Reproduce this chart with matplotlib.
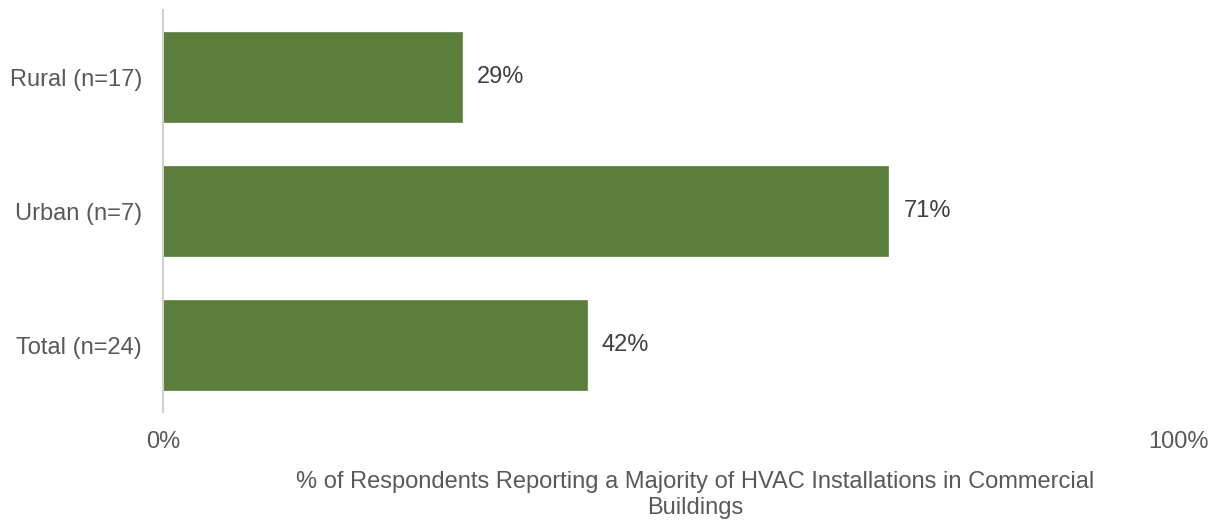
import matplotlib.pyplot as plt

plt.rcParams['font.family'] = ['Liberation Sans', 'DejaVu Sans']

categories = ['Rural (n=17)', 'Urban (n=7)', 'Total (n=24)']
values = [29.4, 71.4, 41.7]
value_labels = ['29%', '71%', '42%']
tick_vals = [0, 100]
tick_labels = ['0%', '100%']

fs = 17

fig = plt.figure(figsize=(12.17, 5.24), dpi=100)
ax = fig.add_axes([163 / 1217, 1 - 412 / 524, (1179 - 163) / 1217, 402 / 524])

ypos = list(range(len(categories)))
ax.barh(ypos, values, height=0.665, color='#5B7F3A', edgecolor='#6A8D48', linewidth=0.6)

for y, v, lab in zip(ypos, values, value_labels):
    ax.text(v + 1.5, y, lab, va='center', ha='left', fontsize=fs, color='#404040')

ax.set_ylim(len(categories) - 0.5, -0.5)
ax.set_xlim(0, 100)
ax.set_yticks(ypos)
ax.set_yticklabels(categories, fontsize=fs, color='#595959')
ax.set_xticks(tick_vals)
ax.set_xticklabels(tick_labels, fontsize=fs, color='#595959')
ax.tick_params(axis='both', length=0)
ax.tick_params(axis='y', pad=15)
ax.tick_params(axis='x', pad=14)

for side in ['top', 'right', 'bottom']:
    ax.spines[side].set_visible(False)
ax.spines['left'].set_color('#D0D0D0')
ax.spines['left'].set_linewidth(1.5)

fig.text(695 / 1217, 1 - 495 / 524,
         '% of Respondents Reporting a Majority of HVAC Installations in Commercial\nBuildings',
         ha='center', va='center', fontsize=fs, color='#595959', linespacing=1.25)

fig.savefig('out.png', dpi=100)
